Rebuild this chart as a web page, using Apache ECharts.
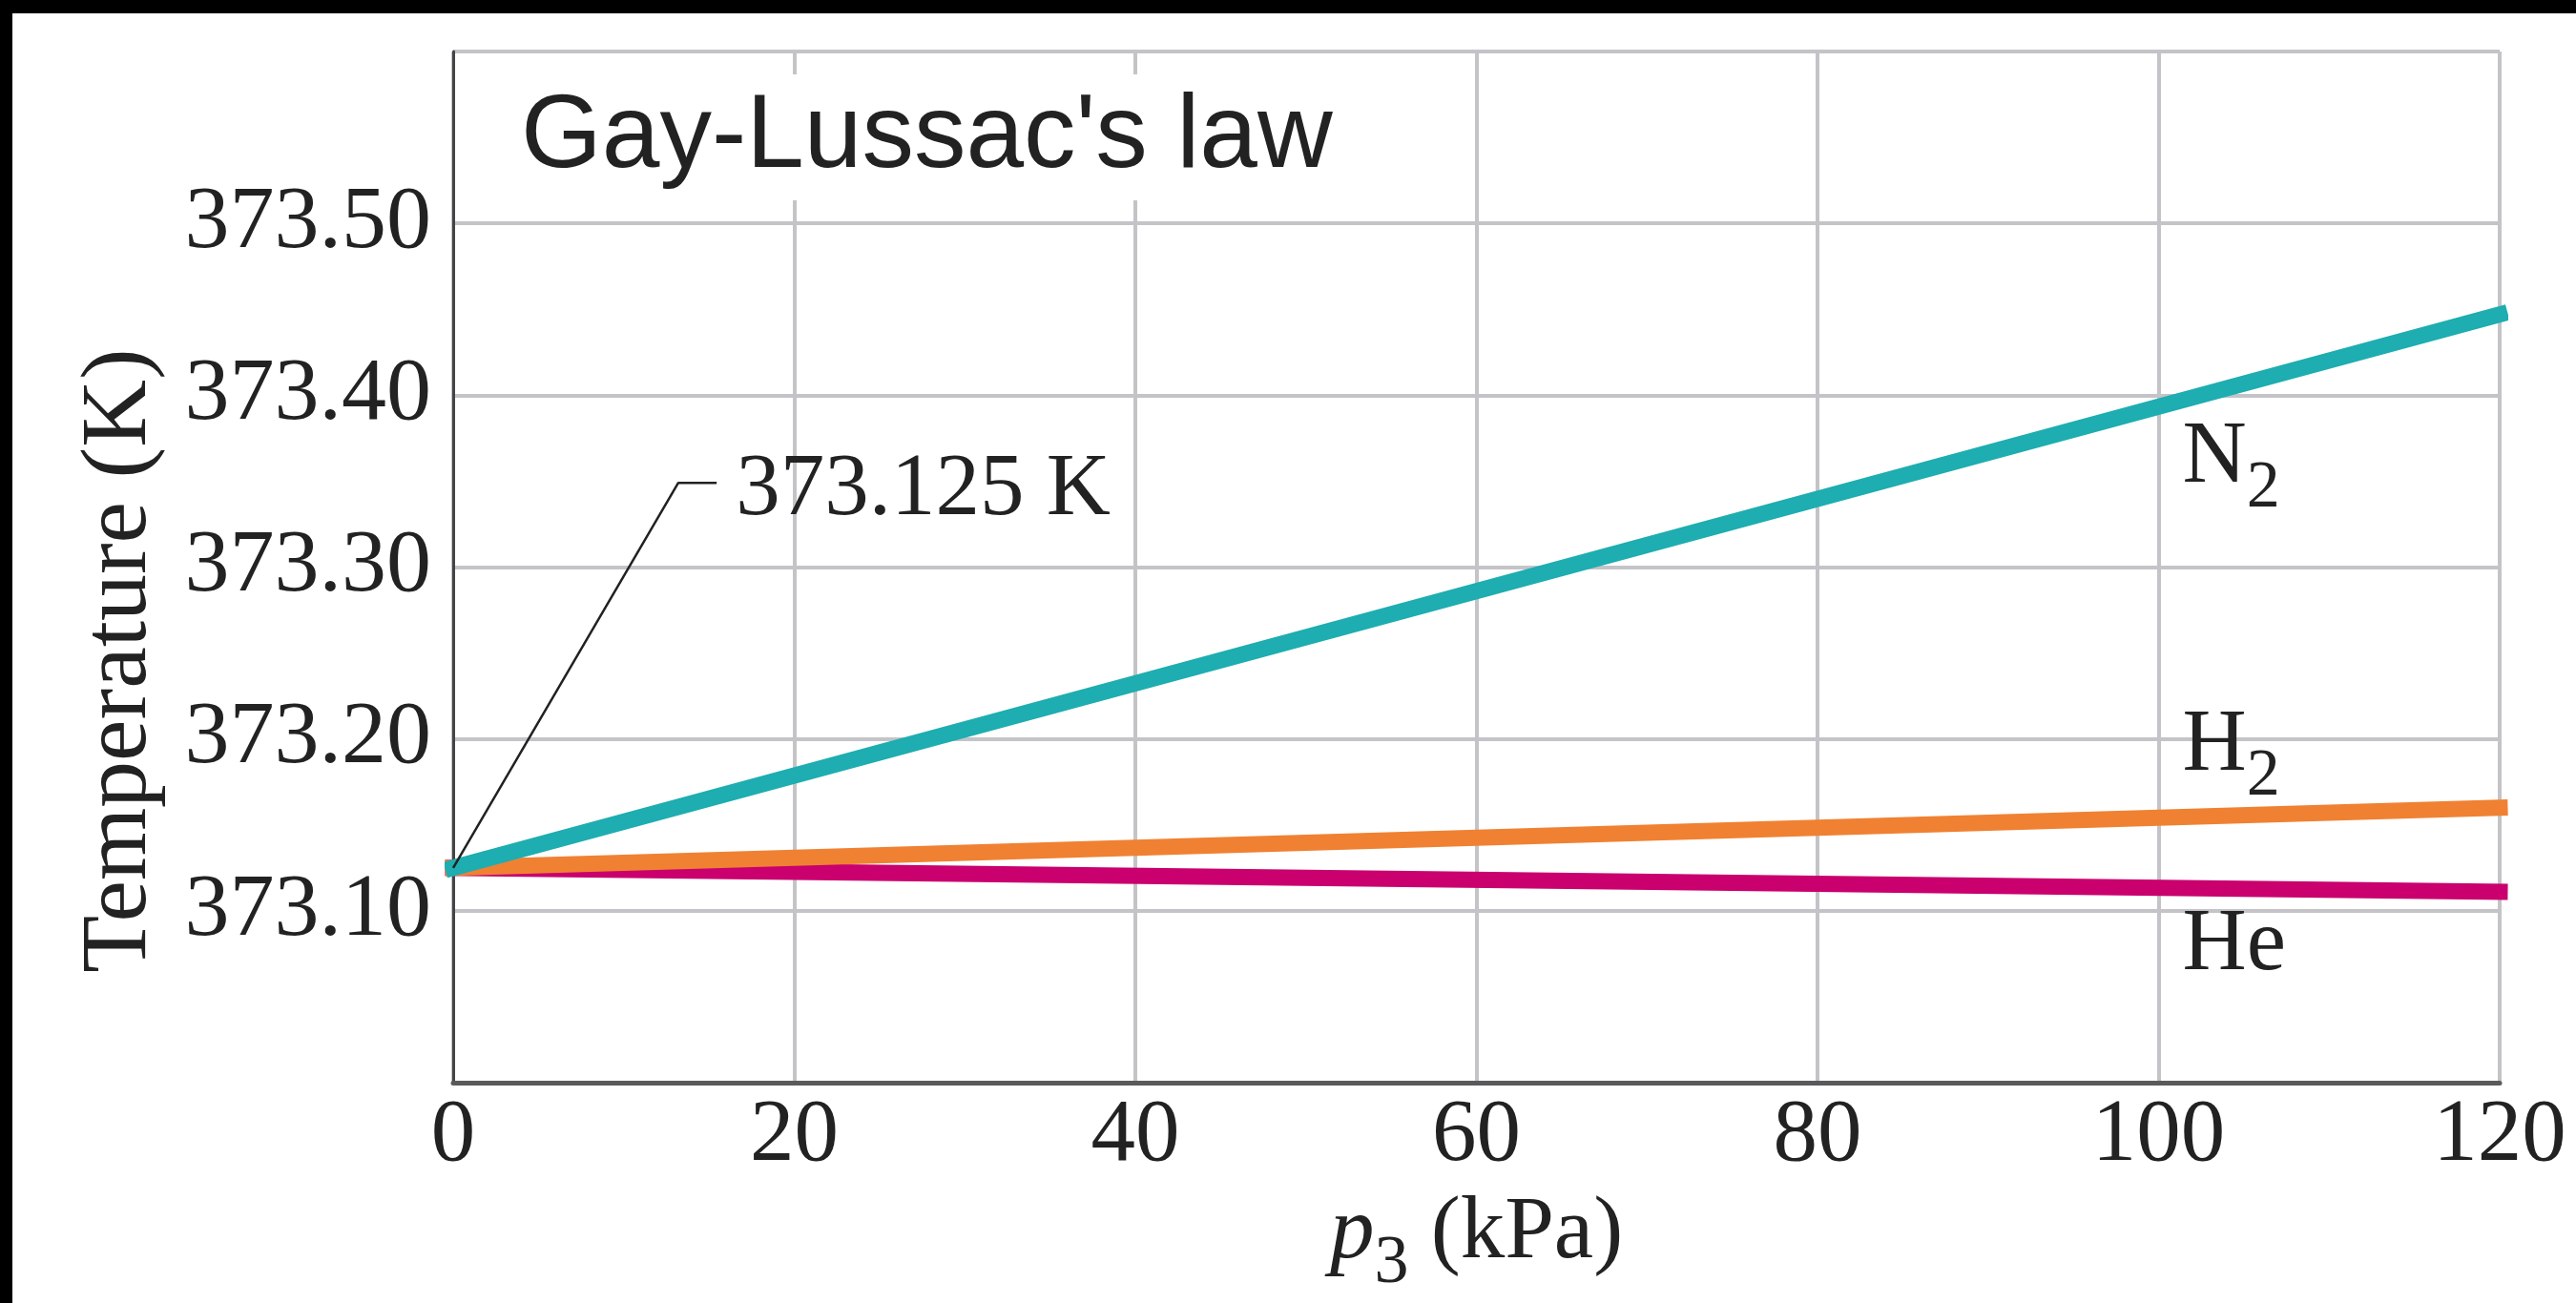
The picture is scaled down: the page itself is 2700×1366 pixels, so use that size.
<!DOCTYPE html>
<html>
<head>
<meta charset="utf-8">
<script src="https://cdn.jsdelivr.net/npm/echarts@6/dist/echarts.min.js"></script>
<style>
html,body{margin:0;padding:0;background:#000;width:2700px;height:1366px;overflow:hidden}
#c{position:absolute;left:13px;top:14px;width:2687px;height:1352px;background:#fff}
</style>
</head>
<body>
<div id="c"></div>
<script>
// ---- data ----
const pressureKPa = [0, 120];
const n2Temp = [373.125, 373.447];
const h2Temp = [373.125, 373.160];
const heTemp = [373.125, 373.111];
const yTickLabels = ['373.10', '373.20', '373.30', '373.40', '373.50'];
const gasNames = ['N2', 'H2', 'He'];
// label anchors (top-left) in data space
const n2LabelAt = [101.4, 373.4005];
const h2LabelAt = [101.4, 373.233];
const heLabelAt = [101.4, 373.117];
// leader for the 373.125 K callout
const leaderX = [0, 13.2, 15.45];
const leaderY = [373.125, 373.349, 373.349];
const calloutText = '373.125 K';

const zip = (xs, ys) => xs.map((x, i) => [x, ys[i]]);
const SERIF = 'Liberation Serif';

const subRich = {
  a: {fontFamily: SERIF, fontSize: 93, lineHeight: 134, color: '#222'},
  b: {fontFamily: SERIF, fontSize: 70, lineHeight: 70, color: '#222', verticalAlign: 'bottom'}
};
function gasLabel(pos, fmt) {
  return {
    symbol: 'rect', symbolSize: 0, silent: true,
    data: [{coord: pos}],
    label: {show: true, position: [0, 0], formatter: fmt, rich: subRich}
  };
}

const chart = echarts.init(document.getElementById('c'), null, {width: 2687, height: 1352});
chart.setOption({
  animation: false,
  backgroundColor: '#fff',
  title: {
    text: "Gay-Lussac's law",
    left: 523, top: 64,
    padding: [12, 10, 10, 10],
    backgroundColor: '#fff',
    textStyle: {fontFamily: 'Liberation Sans', fontWeight: 'normal', fontSize: 109, lineHeight: 110, color: '#222'}
  },
  grid: {left: 462, right: 80, top: 40, bottom: 220},
  xAxis: {
    type: 'value', min: 0, max: 120, interval: 20,
    name: '{p|p}{s|3}{t| (kPa)}',
    nameLocation: 'middle', nameGap: 92,
    nameTextStyle: {
      rich: {
        p: {fontFamily: SERIF, fontStyle: 'italic', fontSize: 93, lineHeight: 134, color: '#222'},
        s: {fontFamily: SERIF, fontSize: 72, lineHeight: 72, verticalAlign: 'bottom', color: '#222'},
        t: {fontFamily: SERIF, fontSize: 93, lineHeight: 134, color: '#222'}
      }
    },
    axisLine: {show: true, onZero: false, lineStyle: {color: '#5a5a5a', width: 5}},
    axisTick: {show: false},
    axisLabel: {margin: 10, fontFamily: SERIF, fontSize: 93, color: '#222'},
    splitLine: {show: true, lineStyle: {color: '#c4c4c8', width: 4}}
  },
  yAxis: {
    type: 'value', min: 373.0, max: 373.6, interval: 0.1,
    name: 'Temperature (K)',
    nameLocation: 'middle', nameGap: 300, nameRotate: 90,
    nameTextStyle: {fontFamily: SERIF, fontSize: 98, color: '#222', padding: [0, 196, 0, 0]},
    axisLine: {show: true, onZero: false, lineStyle: {color: '#444', width: 3}},
    axisTick: {show: false},
    axisLabel: {
      margin: 23, fontFamily: SERIF, fontSize: 94, color: '#222', padding: [8, 0, 0, 0],
      formatter: v => {
        const s = (Math.round(v * 100) / 100).toFixed(2);
        return yTickLabels.includes(s) ? s : '';
      }
    },
    splitLine: {show: true, lineStyle: {color: '#c4c4c8', width: 4}}
  },
  series: [
    {
      name: gasNames[2], type: 'line', data: zip(pressureKPa, heTemp), showSymbol: false, symbol: 'none',
      lineStyle: {color: '#c9006e', width: 17, cap: 'square'},
      markPoint: gasLabel(heLabelAt, '{a|He}')
    },
    {
      name: gasNames[1], type: 'line', data: zip(pressureKPa, h2Temp), showSymbol: false, symbol: 'none',
      lineStyle: {color: '#f08132', width: 17, cap: 'square'},
      markPoint: gasLabel(h2LabelAt, '{a|H}{b|2}')
    },
    {
      name: gasNames[0], type: 'line', data: zip(pressureKPa, n2Temp), showSymbol: false, symbol: 'none',
      lineStyle: {color: '#1eadb0', width: 17, cap: 'square'},
      markPoint: gasLabel(n2LabelAt, '{a|N}{b|2}')
    },
    {
      name: 'callout', type: 'line', data: zip(leaderX, leaderY),
      symbol: 'none', showSymbol: false,
      lineStyle: {color: '#222', width: 2.5},
      endLabel: {show: true, formatter: calloutText, distance: 20, offset: [0, 8],
        fontFamily: SERIF, fontSize: 93, color: '#222'},
      z: 5
    }
  ]
});
</script>
</body>
</html>
